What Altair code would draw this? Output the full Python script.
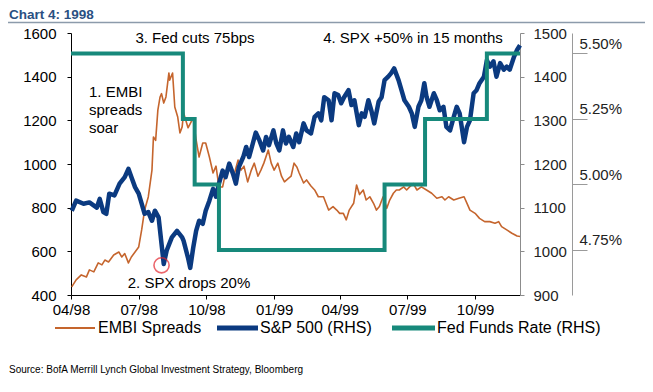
import altair as alt
import pandas as pd

START = "1998-04-30"
END = "1999-12-31"

# S&P 500 (RHS) - days after START, index level
sp_days = [1, 7, 17, 25, 35, 39, 44, 48, 52, 59,
           66, 73, 78, 82, 87, 92, 96, 100, 105, 110,
           114, 119, 123, 126, 130, 137, 144, 151, 153, 159,
           162, 166, 170, 174, 179, 183, 188, 193, 197, 201,
           206, 210, 215, 220, 224, 228, 234, 238, 242, 247,
           251, 256, 261, 265, 269, 275, 279, 283, 288, 292,
           296, 302, 306, 310, 316, 320, 326, 331, 336, 340,
           344, 350, 354, 358, 363, 367, 371, 377, 381, 385,
           391, 395, 399, 404, 408, 412, 418, 422, 426, 431,
           435, 439, 445, 449, 453, 459, 463, 467, 472, 476,
           480, 483, 487, 493, 497, 501, 506, 510, 515, 520,
           524, 528, 534, 538, 542, 547, 551, 555, 561, 565,
           569, 574, 578, 583, 588, 592, 596, 602, 606, 610]
sp_vals = [1093, 1116, 1109, 1112, 1100, 1120, 1090, 1086, 1132, 1128,
           1155, 1170, 1189, 1170, 1147, 1132, 1109, 1086, 1090, 1070,
           1093, 1078, 1017, 971, 1002, 1032, 1047, 1032, 1024, 985,
           962, 1008, 1047, 1070, 1063, 1093, 1116, 1143, 1125, 1155,
           1185, 1170, 1201, 1178, 1155, 1193, 1216, 1239, 1216, 1247,
           1272, 1254, 1231, 1262, 1243, 1277, 1247, 1231, 1277, 1247,
           1262, 1239, 1270, 1250, 1293, 1277, 1270, 1308, 1316, 1300,
           1353, 1346, 1300, 1362, 1358, 1339, 1353, 1369, 1335, 1346,
           1289, 1316, 1308, 1346, 1323, 1293, 1343, 1353, 1392, 1400,
           1408, 1419, 1392, 1369, 1346, 1331, 1316, 1285, 1331, 1346,
           1385, 1354, 1331, 1362, 1346, 1323, 1331, 1285, 1277, 1308,
           1331, 1316, 1250, 1285, 1300, 1362, 1369, 1385, 1400, 1438,
           1423, 1435, 1400, 1431, 1416, 1423, 1416, 1446, 1461, 1472]

# EMBI spreads (LHS) - days after START, bps
em_days = [1, 7, 14, 21, 25, 31, 37, 42, 46, 51,
           58, 65, 69, 73, 78, 82, 87, 92, 96, 100,
           105, 110, 112, 115, 118, 121, 123, 126, 129, 133,
           134, 138, 141, 145, 148, 151, 153, 159, 166, 170,
           174, 179, 183, 188, 193, 197, 201, 206, 210, 217,
           221, 227, 231, 235, 240, 245, 249, 254, 258, 262,
           268, 272, 276, 281, 286, 290, 295, 299, 303, 307,
           310, 316, 320, 326, 331, 336, 343, 350, 356, 361,
           365, 370, 374, 378, 384, 388, 392, 397, 401, 406,
           411, 415, 419, 424, 429, 433, 438, 442, 446, 452,
           456, 460, 465, 470, 476, 483, 490, 497, 504, 508,
           513, 520, 527, 534, 538, 542, 549, 555, 562, 569,
           576, 581, 585, 592, 599, 606, 610]
em_vals = [437, 469, 492, 483, 515, 506, 547, 538, 560, 551,
           583, 597, 574, 590, 547, 574, 597, 620, 698, 789,
           849, 972, 1124, 1108, 1247, 1307, 1322, 1279, 1307, 1417,
           1384, 1417, 1261, 1215, 1142, 1170, 1234, 1166, 1211, 1110,
           1032, 1096, 1096, 1032, 959, 990, 895, 895, 959, 990,
           944, 1018, 972, 990, 918, 972, 1004, 944, 972, 1004,
           1064, 1004, 972, 1004, 944, 918, 933, 944, 1004, 985,
           959, 913, 927, 899, 881, 850, 850, 789, 805, 789,
           774, 774, 744, 789, 820, 904, 860, 881, 835, 850,
           820, 789, 805, 850, 797, 835, 866, 881, 881, 895,
           881, 895, 910, 881, 895, 881, 866, 843, 850, 835,
           850, 835, 843, 850, 820, 789, 774, 751, 736, 736,
           729, 736, 713, 698, 683, 670, 668]

# Fed funds target rate (RHS, %)
fed_dates = ["1998-04-30", "1998-09-29", "1998-10-15", "1998-11-17",
             "1999-06-30", "1999-08-24", "1999-11-16", "1999-12-31"]
fed_rates = [5.50, 5.25, 5.00, 4.75, 5.00, 5.25, 5.50, 5.50]

# circled S&P low
low_date = ["1998-08-31"]
low_val = [968]

tick_dates = ["1998-04-30", "1998-07-31", "1998-10-31", "1999-01-31",
              "1999-04-30", "1999-07-31", "1999-10-31"]
fed_ticks = [4.75, 5.00, 5.25, 5.50]

C_EMBI = "#c5652d"
C_SPX = "#0b3a80"
C_FED = "#17897b"
FONT = "Liberation Sans"

base = pd.Timestamp(START)
sp_df = pd.DataFrame({"date": base + pd.to_timedelta(sp_days, unit="D"), "value": sp_vals})
em_df = pd.DataFrame({"date": base + pd.to_timedelta(em_days, unit="D"), "value": em_vals})
fed_df = pd.DataFrame({"date": pd.to_datetime(fed_dates), "value": fed_rates})
low_df = pd.DataFrame({"date": pd.to_datetime(low_date), "value": low_val})


def dt(s):
    t = pd.Timestamp(s)
    return alt.DateTime(year=t.year, month=t.month, date=t.day)


x_enc = alt.X(
    "date:T",
    scale=alt.Scale(domain=[dt(START), dt(END)]),
    axis=alt.Axis(values=[dt(d) for d in tick_dates], format="%m/%y", title=None,
                  grid=False, domainColor="#000", tickColor="#000", tickSize=4,
                  labelFontSize=15, labelColor="#000", labelPadding=3, labelFont=FONT,
                  labelFlush=False, labelOverlap=False),
)

embi = alt.Chart(em_df).mark_line(color=C_EMBI, strokeWidth=1.6, strokeJoin="round").encode(
    x=x_enc,
    y=alt.Y("value:Q", scale=alt.Scale(domain=[400, 1600], nice=False, zero=False),
            axis=alt.Axis(orient="left", values=[400, 600, 800, 1000, 1200, 1400, 1600],
                          format="d", title=None, grid=False, domainColor="#000",
                          tickColor="#000", tickSize=4, labelFontSize=15, labelColor="#000",
                          labelPadding=11, labelFont=FONT, labelFlush=False)),
)

spx = alt.Chart(sp_df).mark_line(color=C_SPX, strokeWidth=4.5, strokeJoin="round").encode(
    x=x_enc,
    y=alt.Y("value:Q", scale=alt.Scale(domain=[900, 1500], nice=False, zero=False),
            axis=alt.Axis(orient="right", values=[900, 1000, 1100, 1200, 1300, 1400, 1500],
                          format="d", title=None, grid=False, domainColor="#8c8c8c",
                          tickColor="#8c8c8c", tickSize=4, labelFontSize=15, labelColor="#222",
                          labelPadding=9, labelFont=FONT, labelFlush=False)),
)

low = alt.Chart(low_df).mark_point(shape="circle", filled=False, color="#e3262e",
                                   strokeWidth=1.6, size=230).encode(
    x=x_enc,
    y=alt.Y("value:Q", scale=alt.Scale(domain=[900, 1500], nice=False, zero=False), axis=None),
)

fed = alt.Chart(fed_df).mark_line(color=C_FED, strokeWidth=4, interpolate="step-after").encode(
    x=x_enc,
    y=alt.Y("value:Q", scale=alt.Scale(domain=[4.578, 5.578], nice=False, zero=False),
            axis=alt.Axis(orient="right", offset=52, values=fed_ticks, title=None, grid=False,
                          domainColor="#9a9a9a", tickColor="#9a9a9a", tickSize=15,
                          labelFontSize=15, labelColor="#222", labelPadding=-8,
                          labelBaseline="alphabetic", labelOffset=-5, labelAlign="left",
                          labelFont=FONT, labelFlush=False,
                          labelExpr="format(datum.value, '.2f') + '%'")),
)


def txt(s, x, y, size=15, align="left", baseline="middle", color="#000", weight="normal", font=FONT):
    return alt.Chart(pd.DataFrame({"t": [s]})).mark_text(
        align=align, baseline=baseline, fontSize=size, color=color, fontWeight=weight, font=font
    ).encode(text="t:N", x=alt.value(x), y=alt.value(y))


def rule(x1, x2, y, color, w):
    return alt.Chart(pd.DataFrame({"a": [0]})).mark_rule(color=color, strokeWidth=w).encode(
        x=alt.value(x1), x2=alt.value(x2), y=alt.value(y))


annotations = [
    txt("3. Fed cuts 75bps", 124, 5, align="center"),
    txt("4. SPX +50% in 15 months", 342, 5, align="center"),
    txt("1. EMBI", 18, 59),
    txt("spreads", 18, 77),
    txt("soar", 18, 95),
    txt("2. SPX drops 20%", 118, 250, align="center"),
    txt("Chart 4: 1998", -62, -14, size=13.5, baseline="alphabetic", color="#2a5082", weight="bold"),
    rule(-63, 574, -10.5, "#8c9bab", 1.5),
    # legend
    rule(-16, 24, 295, C_EMBI, 1.8),
    txt("EMBI Spreads", 27, 295, size=16),
    rule(146, 187, 295, C_SPX, 5),
    txt("S&P 500 (RHS)", 189, 295, size=16),
    rule(321, 364, 295, C_FED, 5),
    txt("Fed Funds Rate (RHS)", 366, 295, size=16),
    txt("Source: BofA Merrill Lynch Global Investment Strategy, Bloomberg", -62, 337, size=10),
]

chart = alt.layer(embi, spx, low, fed, *annotations).resolve_scale(y="independent").properties(
    width=449, height=262,
    padding={"left": 63, "top": 25, "right": 125, "bottom": 89},
    autosize=alt.AutoSizeParams(type="none"),
).configure_view(stroke=None)

chart.save("out.html", embed_options={"renderer": "svg", "actions": False})
